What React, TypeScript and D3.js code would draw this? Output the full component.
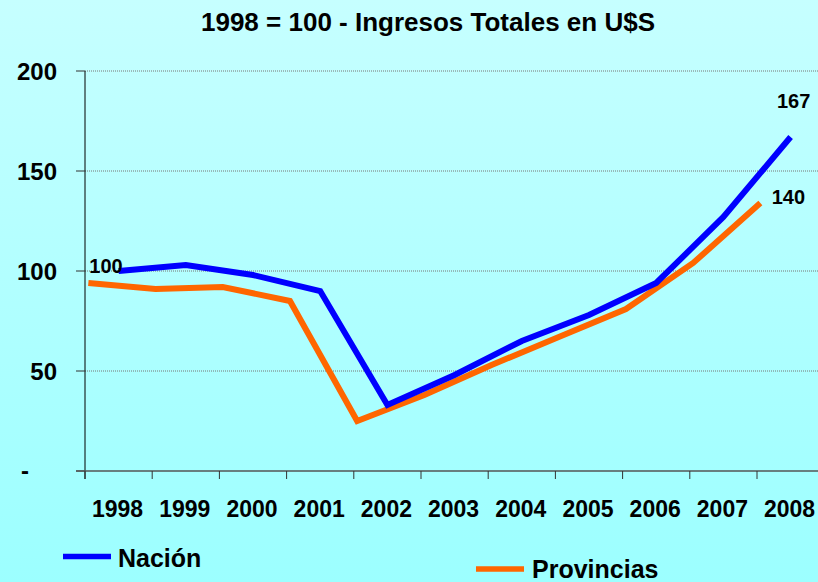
import React from "react";
import * as d3 from "d3";

const years = ["1998", "1999", "2000", "2001", "2002", "2003", "2004", "2005", "2006", "2007", "2008"];
const nacion = [100, 103, 98, 90, 33, 48, 65, 78, 94, 127, 167];
const provincias = [94, 91, 92, 85, 25, 38, 53, 67, 81, 104, 134];
const yTicks = [0, 50, 100, 150, 200];
const yTickLabels = ["-", "50", "100", "150", "200"];
const title = "1998 = 100 - Ingresos Totales en U$S";
const seriesNames = ["Nación", "Provincias"];
const endLabels = ["167", "140"];
const startLabel = "100";

const W = 818;
const H = 582;
const FONT = "'Liberation Sans', Arial, sans-serif";

export default function App() {
  const x = d3.scaleBand<string>().domain(years).range([85, 85 + 67.2 * years.length]).padding(0);
  const y = d3.scaleLinear().domain([0, 200]).range([471, 71]);
  const bw = x.bandwidth();

  const lineN = d3
    .line<number>()
    .x((_, i) => (x(years[i]) as number) + bw / 2)
    .y((d) => y(d));
  const lineP = d3
    .line<number>()
    .x((_, i) => (x(years[i]) as number) + bw * 0.05)
    .y((d) => y(d));

  const lastN = nacion.length - 1;
  const lastP = provincias.length - 1;

  return (
    <svg
      width={W}
      height={H}
      style={{ position: "absolute", left: 0, top: 0, fontFamily: FONT }}
    >
      <defs>
        <linearGradient id="bg" x1="0" y1="0" x2="0" y2="1">
          <stop offset="0%" stopColor="#c6ffff" />
          <stop offset="100%" stopColor="#9cffff" />
        </linearGradient>
      </defs>
      <rect x={0} y={0} width={W} height={H} fill="url(#bg)" />

      <text x={428} y={31} textAnchor="middle" fontSize={26} fontWeight="bold" fill="#000">
        {title}
      </text>

      {/* gridlines */}
      {yTicks
        .filter((t) => t > 0)
        .map((t) => (
          <line
            key={"g" + t}
            x1={85}
            x2={W}
            y1={y(t)}
            y2={y(t)}
            stroke="#777"
            strokeWidth={1}
            strokeDasharray="1,1"
          />
        ))}

      {/* y axis */}
      <line x1={85} x2={85} y1={y(200)} y2={y(0) + 8} stroke="#000" strokeWidth={1} />
      {yTicks.map((t, i) => (
        <g key={"yt" + t}>
          <line x1={76} x2={85} y1={y(t)} y2={y(t)} stroke="#333" strokeWidth={1} />
          <text
            x={i === 0 ? 25 : 57}
            y={y(t) + (i === 0 ? 8 : 9)}
            textAnchor={i === 0 ? "middle" : "end"}
            fontSize={24}
            fontWeight="bold"
            fill="#000"
          >
            {yTickLabels[i]}
          </text>
        </g>
      ))}

      {/* x axis */}
      <line x1={76} x2={W} y1={y(0)} y2={y(0)} stroke="#555" strokeWidth={1.5} />
      {years.map((yr) => (
        <line
          key={"xt" + yr}
          x1={x(yr) as number}
          x2={x(yr) as number}
          y1={y(0)}
          y2={y(0) + 8}
          stroke="#333"
          strokeWidth={1}
        />
      ))}
      {years.map((yr) => (
        <text
          key={"xl" + yr}
          x={(x(yr) as number) + bw / 2 - 1}
          y={517}
          textAnchor="middle"
          fontSize={23}
          fontWeight="bold"
          fill="#000"
        >
          {yr}
        </text>
      ))}

      {/* series */}
      <path d={lineP(provincias) || ""} fill="none" stroke="#ff6600" strokeWidth={6} strokeLinejoin="miter" />
      <path d={lineN(nacion) || ""} fill="none" stroke="#0000ff" strokeWidth={6} strokeLinejoin="miter" />

      {/* data labels */}
      <text x={106} y={273} textAnchor="middle" fontSize={20} fontWeight="bold" fill="#000">
        {startLabel}
      </text>
      <text
        x={(x(years[lastN]) as number) + bw / 2 + 3}
        y={108}
        textAnchor="middle"
        fontSize={20}
        fontWeight="bold"
        fill="#000"
      >
        {endLabels[0]}
      </text>
      <text
        x={(x(years[lastP]) as number) + bw * 0.05 + 28}
        y={204}
        textAnchor="middle"
        fontSize={20}
        fontWeight="bold"
        fill="#000"
      >
        {endLabels[1]}
      </text>

      {/* legend */}
      <line x1={63} x2={111} y1={556.5} y2={556.5} stroke="#0000ff" strokeWidth={5.5} />
      <text x={118} y={567} fontSize={25} fontWeight="bold" fill="#000">
        {seriesNames[0]}
      </text>
      <line x1={476} x2={524} y1={569} y2={569} stroke="#ff6600" strokeWidth={5.5} />
      <text x={532} y={578} fontSize={25} fontWeight="bold" fill="#000">
        {seriesNames[1]}
      </text>
    </svg>
  );
}
